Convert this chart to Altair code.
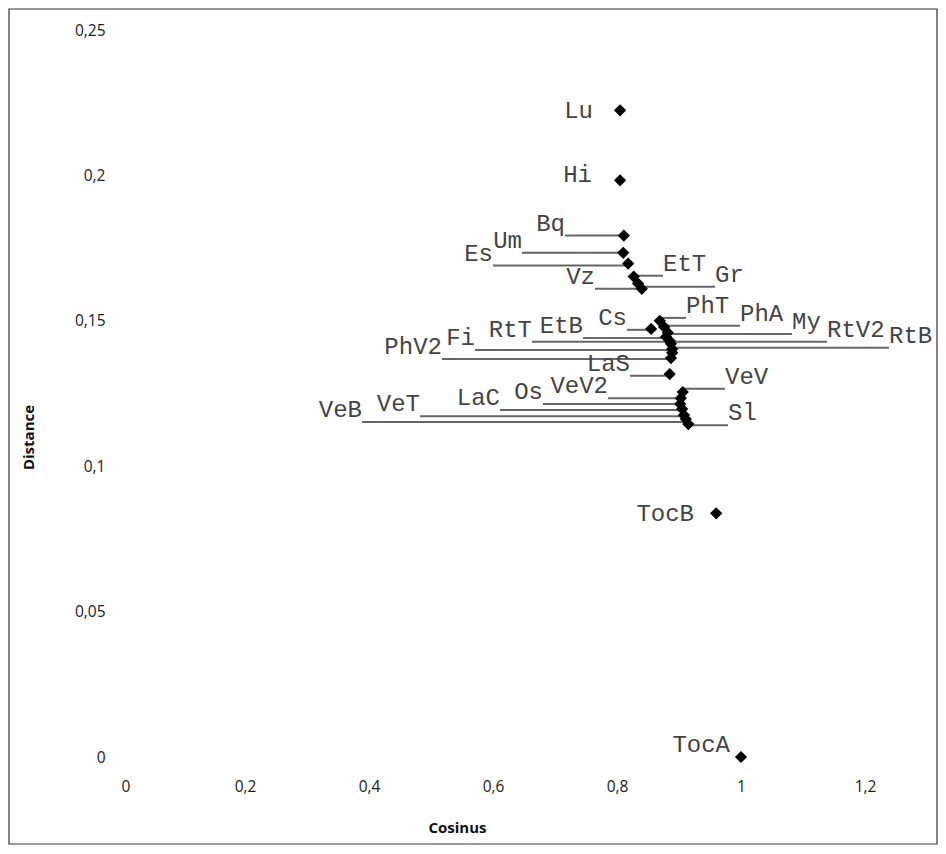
import altair as alt
import pandas as pd

# ---- data ----
names = ["Lu", "Hi", "Bq", "Um", "Es", "EtT", "Vz", "Gr", "Cs", "PhT", "PhA", "EtB", "My",
         "RtV2", "RtT", "RtB", "Fi", "PhV2", "LaS", "VeV", "VeV2", "Os", "LaC", "VeT", "VeB",
         "Sl", "TocB", "TocA"]
cosinus = [0.805, 0.805, 0.811, 0.810, 0.818, 0.827, 0.834, 0.840, 0.855, 0.869, 0.876, 0.879,
           0.882, 0.885, 0.887, 0.889, 0.889, 0.887, 0.885, 0.906, 0.903, 0.902, 0.905, 0.908,
           0.911, 0.915, 0.960, 1.000]
distance = [0.2224, 0.1983, 0.1793, 0.1734, 0.1697, 0.1652, 0.1628, 0.1610, 0.1472, 0.1500,
            0.1479, 0.1445, 0.1459, 0.1431, 0.1421, 0.1403, 0.1390, 0.1372, 0.1317, 0.1255,
            0.1234, 0.1214, 0.1197, 0.1176, 0.1162, 0.1145, 0.0838, 0.0]

# label placement (data units): side of the point, text anchor x, leader-line y
label_side = ["L", "L", "L", "L", "L", "R", "L", "R", "L", "R", "R", "L", "R",
              "R", "L", "R", "L", "L", "L", "R", "L", "L", "L", "L", "L",
              "R", "L", "L"]
label_x = [0.7613, 0.7597, 0.7161, 0.6468, 0.6000, 0.8742, 0.7645, 0.9581, 0.8161, 0.9113,
           0.9984, 0.7452, 1.0823, 1.1387, 0.6629, 1.2387, 0.5710, 0.5177, 0.8210, 0.9742,
           0.7855, 0.6806, 0.6113, 0.4823, 0.3887, 0.9790, 0.9242, 0.9823]
label_y = [0.2179, 0.1959, 0.1793, 0.1734, 0.1690, 0.1655, 0.1610, 0.1617, 0.1469, 0.1510,
           0.1483, 0.1441, 0.1455, 0.1428, 0.1428, 0.1407, 0.1400, 0.1369, 0.1311, 0.1266,
           0.1234, 0.1214, 0.1193, 0.1172, 0.1152, 0.1141, 0.0793, 0.0]
leader = [False, False] + [True] * 24 + [False, False]

x_ticks = [0, 0.2, 0.4, 0.6, 0.8, 1, 1.2]
y_ticks = [0, 0.05, 0.1, 0.15, 0.2, 0.25]

df = pd.DataFrame({
    "name": names, "cos": cosinus, "dist": distance,
    "side": label_side, "lx": label_x, "ly": label_y, "leader": leader,
})

W, H = 806, 727
xs = alt.Scale(domain=[0, 1.3], nice=False, zero=False)
ys = alt.Scale(domain=[0, 0.25], nice=False, zero=False)

label_expr = "replace(datum.label, '.', ',')"

base = alt.Chart(df)

points = base.mark_point(shape="diamond", filled=True, color="black", size=150, opacity=1).encode(
    x=alt.X("cos:Q", scale=xs, axis=alt.Axis(
        values=x_ticks, format="~g", labelExpr=label_expr, title="Cosinus",
        domain=False, ticks=False, tickSize=0, grid=False,
        labelFont="Open Sans", labelFontSize=15.5, labelColor="#222",
        labelBaseline="middle", labelPadding=29,
        titleFont="Open Sans", titleFontSize=15, titleFontWeight="bold", titleColor="#111",
        titleX=336, titleY=70, titleAlign="center", titleBaseline="middle")),
    y=alt.Y("dist:Q", scale=ys, axis=alt.Axis(
        values=y_ticks, format="~g", labelExpr=label_expr, title="Distance",
        domain=False, ticks=False, tickSize=0, grid=False,
        labelFont="Open Sans", labelFontSize=15.5, labelColor="#222",
        labelPadding=16,
        titleFont="Open Sans", titleFontSize=15, titleFontWeight="bold", titleColor="#111",
        titleX=-93, titleY=407, titleAngle=270, titleAlign="center", titleBaseline="middle")),
)

rules = base.transform_filter("datum.leader").mark_rule(color="#666", strokeWidth=2).encode(
    x=alt.X("lx:Q", scale=xs),
    x2="cos:Q",
    y=alt.Y("ly:Q", scale=ys),
)

text_style = dict(font="Liberation Mono", fontSize=24, color="#444", baseline="alphabetic", dy=-5)

left_text = base.transform_filter("datum.side == 'L'").mark_text(align="right", **text_style).encode(
    x=alt.X("lx:Q", scale=xs), y=alt.Y("ly:Q", scale=ys), text="name:N")
right_text = base.transform_filter("datum.side == 'R'").mark_text(align="left", **text_style).encode(
    x=alt.X("lx:Q", scale=xs), y=alt.Y("ly:Q", scale=ys), text="name:N")

frame = alt.Chart(pd.DataFrame({"f": [1]})).mark_rect(fill="transparent", stroke="#333", strokeWidth=1.2).encode(
    x=alt.value(-112), x2=alt.value(816), y=alt.value(-21), y2=alt.value(814))

chart = alt.layer(frame, rules, left_text, right_text, points).properties(
    width=W, height=H,
    autosize=alt.AutoSizeParams(type="none"),
    padding={"left": 113, "top": 22, "right": 11, "bottom": 88},
    background="white",
).configure_view(strokeWidth=0)

chart.save("out.html", embed_options={"renderer": "svg", "actions": False})
